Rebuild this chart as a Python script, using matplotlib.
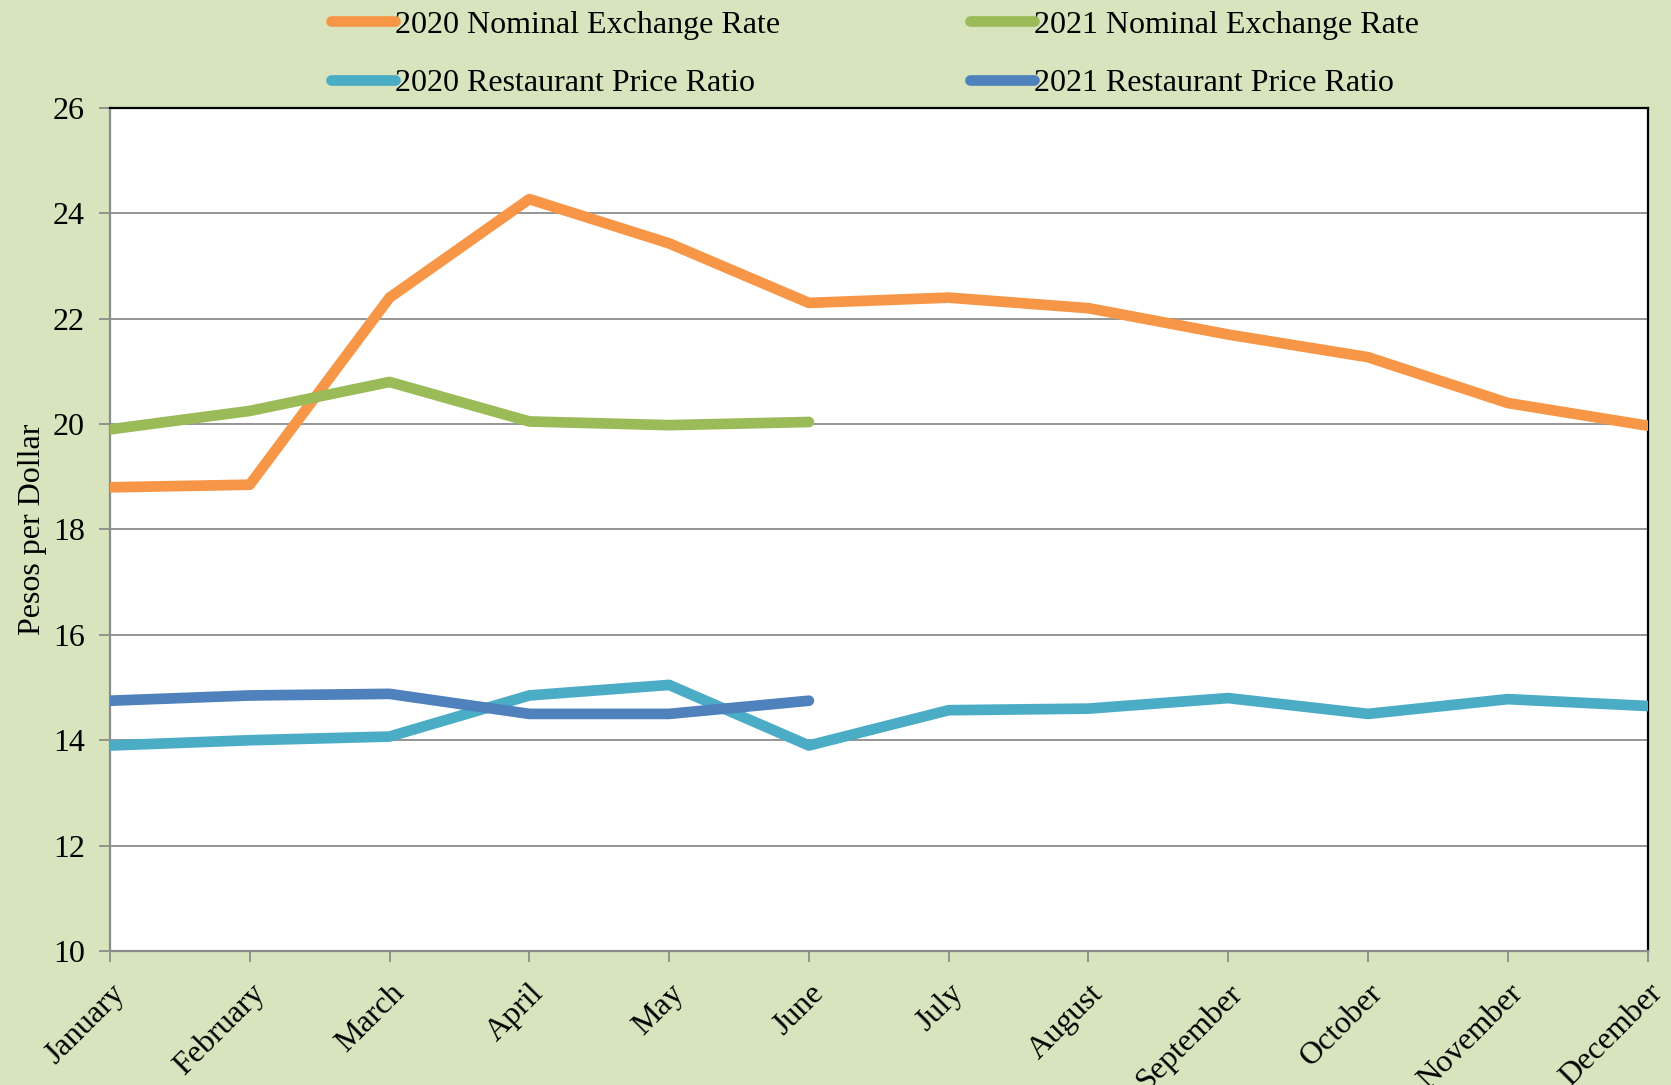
import matplotlib.pyplot as plt

months = ["January", "February", "March", "April", "May", "June",
          "July", "August", "September", "October", "November", "December"]

nominal_2020 = [18.8, 18.85, 22.4, 24.27, 23.43, 22.3, 22.4, 22.2, 21.7, 21.27, 20.4, 19.97]
nominal_2021 = [19.9, 20.25, 20.8, 20.05, 19.98, 20.04]
restaurant_2020 = [13.9, 14.0, 14.07, 14.85, 15.05, 13.9, 14.57, 14.6, 14.8, 14.5, 14.78, 14.65]
restaurant_2021 = [14.75, 14.85, 14.88, 14.5, 14.5, 14.75]

plt.rcParams['font.family'] = ['Liberation Serif', 'DejaVu Serif']
fs = 23

fig = plt.figure(figsize=(16.71, 10.85), dpi=100, facecolor='#D7E4BD')
ax = fig.add_axes([0.0658, 0.1235, 0.9202, 0.777])
ax.set_facecolor('white')

x = list(range(len(months)))
lw = 7.7
l1, = ax.plot(x, nominal_2020, color='#F79646', lw=lw, solid_capstyle='round', label='2020 Nominal Exchange Rate', zorder=3)
l2, = ax.plot(x[:len(nominal_2021)], nominal_2021, color='#9BBB59', lw=lw, solid_capstyle='round', label='2021 Nominal Exchange Rate', zorder=3)
l3, = ax.plot(x, restaurant_2020, color='#4BACC6', lw=lw, solid_capstyle='round', label='2020 Restaurant Price Ratio', zorder=3)
l4, = ax.plot(x[:len(restaurant_2021)], restaurant_2021, color='#4F81BD', lw=lw, solid_capstyle='round', label='2021 Restaurant Price Ratio', zorder=4)

ax.set_xlim(0, 11)
ax.set_ylim(10, 26)
ax.set_yticks(range(10, 27, 2))
ax.yaxis.grid(True, color='#8C8C8C', lw=1.3)
ax.set_axisbelow(True)

ax.set_xticks(x)
ax.set_xticklabels(months, rotation=45, ha='right', va='top', rotation_mode='anchor', fontsize=fs)
ax.tick_params(axis='x', direction='out', length=8, width=1.3, color='#8C8C8C', pad=12)
ax.tick_params(axis='y', direction='out', length=8, width=1.3, color='#8C8C8C', labelsize=fs, pad=10)

for side in ['left', 'bottom']:
    ax.spines[side].set_color('#8C8C8C')
    ax.spines[side].set_linewidth(1.6)
for side in ['top', 'right']:
    ax.spines[side].set_color('black')
    ax.spines[side].set_linewidth(1.6)

ax.set_ylabel('Pesos per Dollar', fontsize=fs, labelpad=4)

fig.legend(handles=[l1, l3, l2, l4], ncol=2, loc='upper left', bbox_to_anchor=(0.181, 1.017),
           frameon=False, fontsize=fs, handlelength=2.0, handletextpad=0.0,
           columnspacing=5.95, labelspacing=0.9)

fig.savefig('out.png', dpi=100, facecolor=fig.get_facecolor())
